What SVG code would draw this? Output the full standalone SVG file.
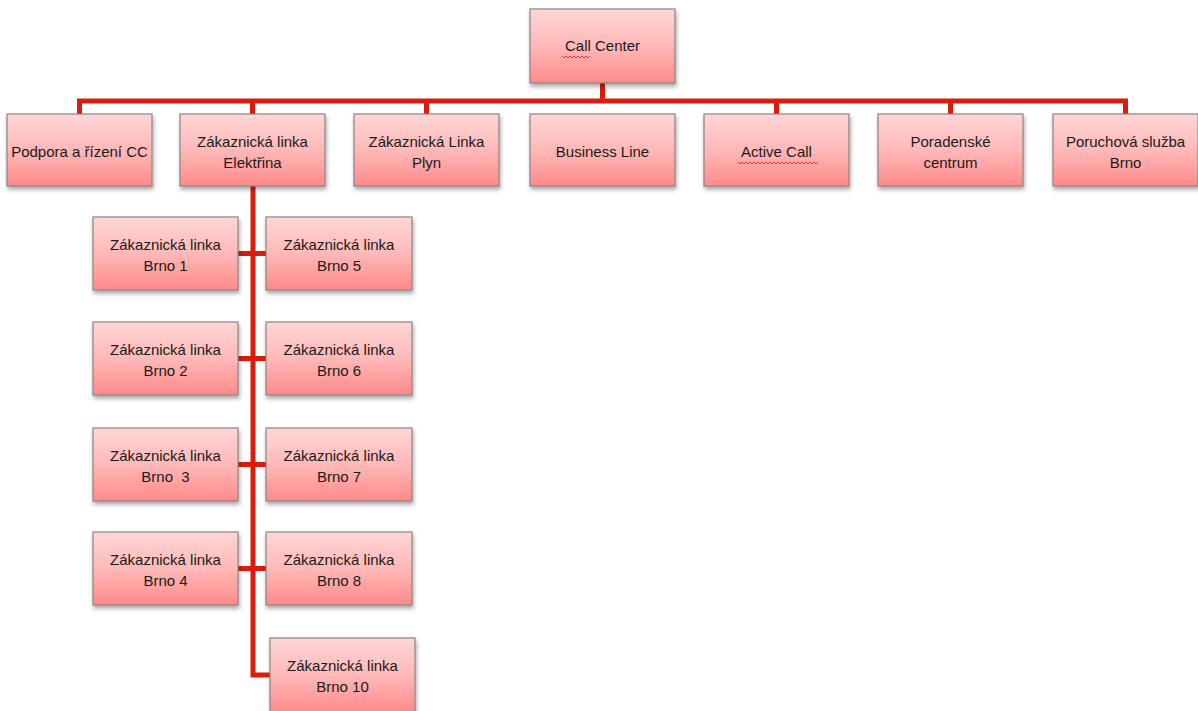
<svg xmlns="http://www.w3.org/2000/svg" width="1198" height="711" viewBox="0 0 1198 711">
<defs>
<linearGradient id="g" x1="0" y1="0" x2="0" y2="1">
<stop offset="0" stop-color="#ffd6d6"/>
<stop offset="0.5" stop-color="#ffb8b8"/>
<stop offset="1" stop-color="#ff8a8a"/>
</linearGradient>
<filter id="sh" x="-10%" y="-10%" width="125%" height="130%">
<feDropShadow dx="1" dy="3" stdDeviation="2" flood-color="#000" flood-opacity="0.35"/>
</filter>
</defs>
<style>
.box{fill:url(#g);stroke:#8e8282;stroke-width:1.2;filter:url(#sh)}
.t{font-family:"Liberation Sans",Arial,sans-serif;font-size:15px;fill:#1a1a1a;text-anchor:middle;white-space:pre}
.c{fill:none;stroke:#dc1c0a;stroke-width:5;stroke-linejoin:miter}
.sq{fill:none;stroke:#e02020;stroke-width:0.8}
</style>
<rect width="1198" height="711" fill="#fff"/>
<g id="connectors">
<path class="c" d="M602.5,83 V101"/>
<path class="c" d="M79.5,114 V101 H1125.5 V114"/>
<path class="c" d="M252.5,101 V114"/>
<path class="c" d="M426.5,101 V114"/>
<path class="c" d="M776.5,101 V114"/>
<path class="c" d="M950.5,101 V114"/>
<path class="c" d="M253,186 V675 H270"/>
<path class="c" d="M238,253.5 H266"/>
<path class="c" d="M238,358.5 H266"/>
<path class="c" d="M238,464.5 H266"/>
<path class="c" d="M238,568.5 H266"/>
</g>
<g id="call-center">
<rect class="box" x="530" y="9" width="145" height="74"/>
<text class="t" x="602.5" y="51">Call Center</text>
<path class="sq" d="M562,56 l2,2 l2,-2 l2,2 l2,-2 l2,2 l2,-2 l2,2 l2,-2 l2,2 l2,-2 l2,2 l2,-2 l2,2 l2,-2"/>
</g>
<g id="podpora">
<rect class="box" x="7" y="114" width="145" height="72"/>
<text class="t" x="79.5" y="157">Podpora a řízení CC</text>
</g>
<g id="elektrina">
<rect class="box" x="180" y="114" width="145" height="72"/>
<text class="t" x="252.5" y="147">Zákaznická linka</text>
<text class="t" x="252.5" y="168">Elektřina</text>
</g>
<g id="plyn">
<rect class="box" x="354" y="114" width="145" height="72"/>
<text class="t" x="426.5" y="147">Zákaznická Linka</text>
<text class="t" x="426.5" y="168">Plyn</text>
</g>
<g id="business-line">
<rect class="box" x="530" y="114" width="145" height="72"/>
<text class="t" x="602.5" y="157">Business Line</text>
</g>
<g id="active-call">
<rect class="box" x="704" y="114" width="145" height="72"/>
<text class="t" x="776.5" y="157">Active Call</text>
<path class="sq" d="M738,162 l2,2 l2,-2 l2,2 l2,-2 l2,2 l2,-2 l2,2 l2,-2 l2,2 l2,-2 l2,2 l2,-2 l2,2 l2,-2 l2,2 l2,-2 l2,2 l2,-2 l2,2 l2,-2 l2,2 l2,-2 l2,2 l2,-2 l2,2 l2,-2 l2,2 l2,-2 l2,2 l2,-2 l2,2 l2,-2 l2,2 l2,-2 l2,2 l2,-2 l2,2 l2,-2 l2,2 l2,-2"/>
</g>
<g id="poradenske">
<rect class="box" x="878" y="114" width="145" height="72"/>
<text class="t" x="950.5" y="147">Poradenské</text>
<text class="t" x="950.5" y="168">centrum</text>
</g>
<g id="poruchova">
<rect class="box" x="1053" y="114" width="145" height="72"/>
<text class="t" x="1125.5" y="147">Poruchová služba</text>
<text class="t" x="1125.5" y="168">Brno</text>
</g>
<g id="brno1">
<rect class="box" x="93" y="217" width="145" height="73"/>
<text class="t" x="165.5" y="250">Zákaznická linka</text>
<text class="t" x="165.5" y="271">Brno 1</text>
</g>
<g id="brno5">
<rect class="box" x="266" y="217" width="146" height="73"/>
<text class="t" x="339" y="250">Zákaznická linka</text>
<text class="t" x="339" y="271">Brno 5</text>
</g>
<g id="brno2">
<rect class="box" x="93" y="322" width="145" height="73"/>
<text class="t" x="165.5" y="355">Zákaznická linka</text>
<text class="t" x="165.5" y="376">Brno 2</text>
</g>
<g id="brno6">
<rect class="box" x="266" y="322" width="146" height="73"/>
<text class="t" x="339" y="355">Zákaznická linka</text>
<text class="t" x="339" y="376">Brno 6</text>
</g>
<g id="brno3">
<rect class="box" x="93" y="428" width="145" height="73"/>
<text class="t" x="165.5" y="461">Zákaznická linka</text>
<text class="t" x="165.5" y="482">Brno  3</text>
</g>
<g id="brno7">
<rect class="box" x="266" y="428" width="146" height="73"/>
<text class="t" x="339" y="461">Zákaznická linka</text>
<text class="t" x="339" y="482">Brno 7</text>
</g>
<g id="brno4">
<rect class="box" x="93" y="532" width="145" height="73"/>
<text class="t" x="165.5" y="565">Zákaznická linka</text>
<text class="t" x="165.5" y="586">Brno 4</text>
</g>
<g id="brno8">
<rect class="box" x="266" y="532" width="146" height="73"/>
<text class="t" x="339" y="565">Zákaznická linka</text>
<text class="t" x="339" y="586">Brno 8</text>
</g>
<g id="brno10">
<rect class="box" x="270" y="638" width="145" height="75"/>
<text class="t" x="342.5" y="671">Zákaznická linka</text>
<text class="t" x="342.5" y="692">Brno 10</text>
</g>
</svg>
